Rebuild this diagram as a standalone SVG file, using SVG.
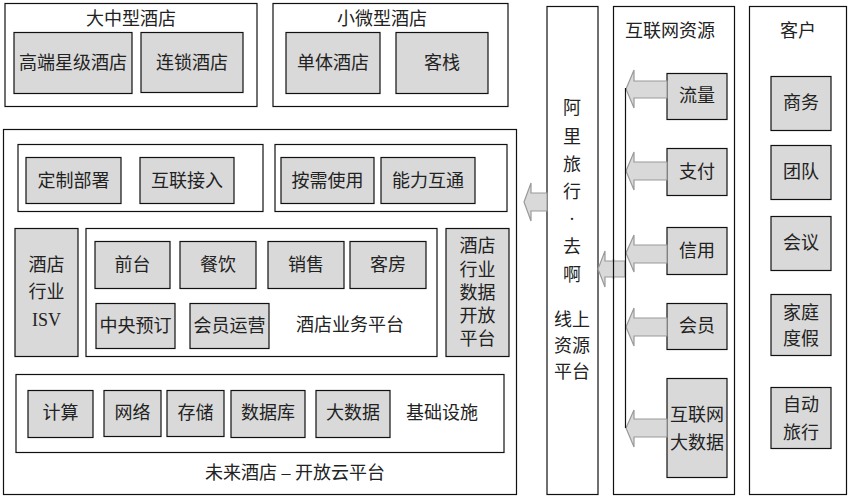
<svg xmlns="http://www.w3.org/2000/svg" width="853" height="502" viewBox="0 0 853 502">
<style>
.frame{fill:#fff;stroke:#111;stroke-width:1.2}
.box{fill:#d9d9d9;stroke:#111;stroke-width:1.2}
.arr{fill:#d9d9d9;stroke:#9a9a9a;stroke-width:1.2}
text{font-family:"Liberation Serif","Noto Sans CJK SC",serif;font-size:18px;fill:#222;text-anchor:middle;dominant-baseline:central}
</style>
<rect width="853" height="502" fill="#fff"/>

<g id="large-hotels">
<rect class="frame" x="5" y="3.5" width="252" height="103"/>
<text x="131" y="19">大中型酒店</text>
<g id="n-highend"><rect class="box" x="14" y="32.5" width="118" height="61"/><text x="73" y="63">高端星级酒店</text></g>
<g id="n-chain"><rect class="box" x="141" y="32.5" width="102" height="60"/><text x="192" y="62.5">连锁酒店</text></g>
</g>

<g id="small-hotels">
<rect class="frame" x="273" y="3.5" width="235" height="103"/>
<text x="382" y="19">小微型酒店</text>
<g id="n-single"><rect class="box" x="286" y="32.5" width="94" height="61"/><text x="333" y="63">单体酒店</text></g>
<g id="n-inn"><rect class="box" x="396" y="32.5" width="92" height="61"/><text x="442" y="63">客栈</text></g>
</g>

<g id="cloud-platform">
<rect class="frame" x="3.5" y="129.5" width="513" height="365"/>
<text x="295" y="473">未来酒店 – 开放云平台</text>
<g id="deploy-group">
<rect class="frame" x="18" y="144.5" width="245" height="67"/>
<g id="n-custom"><rect class="box" x="26" y="157.5" width="95" height="46"/><text x="73.5" y="180.5">定制部署</text></g>
<g id="n-connect"><rect class="box" x="140" y="157.5" width="94" height="46"/><text x="187" y="180.5">互联接入</text></g>
</g>
<g id="usage-group">
<rect class="frame" x="275" y="144.5" width="232" height="67"/>
<g id="n-ondemand"><rect class="box" x="281" y="157.5" width="93" height="46"/><text x="327.5" y="180.5">按需使用</text></g>
<g id="n-ability"><rect class="box" x="381" y="157.5" width="94" height="46"/><text x="428" y="180.5">能力互通</text></g>
</g>
<g id="n-isv"><rect class="box" x="15" y="228.5" width="63" height="128"/>
<text x="46.5" y="265">酒店</text><text x="46.5" y="292">行业</text><text x="46.5" y="320">ISV</text></g>
<g id="business-platform">
<rect class="frame" x="86" y="228.5" width="351" height="128"/>
<text x="350" y="325">酒店业务平台</text>
<g id="n-front"><rect class="box" x="95" y="241.5" width="75" height="47"/><text x="132.5" y="265">前台</text></g>
<g id="n-dining"><rect class="box" x="180" y="241.5" width="76" height="47"/><text x="218" y="265">餐饮</text></g>
<g id="n-sales"><rect class="box" x="268" y="241.5" width="76" height="47"/><text x="306" y="265">销售</text></g>
<g id="n-rooms"><rect class="box" x="350" y="241.5" width="76" height="47"/><text x="388" y="265">客房</text></g>
<g id="n-central"><rect class="box" x="96" y="303.5" width="79" height="45"/><text x="135.5" y="326">中央预订</text></g>
<g id="n-member-ops"><rect class="box" x="190" y="303.5" width="79" height="45"/><text x="229.5" y="326">会员运营</text></g>
</g>
<g id="n-data-open"><rect class="box" x="446" y="228.5" width="63" height="128"/>
<text x="477.5" y="246">酒店</text><text x="477.5" y="270">行业</text><text x="477.5" y="293">数据</text><text x="477.5" y="316">开放</text><text x="477.5" y="339">平台</text></g>
<g id="infrastructure">
<rect class="frame" x="16" y="374.5" width="488" height="78"/>
<text x="442" y="413">基础设施</text>
<g id="n-compute"><rect class="box" x="28" y="390.5" width="65" height="47"/><text x="60.5" y="413">计算</text></g>
<g id="n-network"><rect class="box" x="104" y="390.5" width="57" height="46"/><text x="132.5" y="413">网络</text></g>
<g id="n-storage"><rect class="box" x="167" y="390.5" width="57" height="46"/><text x="195.5" y="413">存储</text></g>
<g id="n-db"><rect class="box" x="231" y="390.5" width="74" height="47"/><text x="268" y="413">数据库</text></g>
<g id="n-bigdata"><rect class="box" x="316" y="390.5" width="74" height="47"/><text x="353" y="413">大数据</text></g>
</g>
</g>

<g id="ali-platform">
<rect class="frame" x="547" y="6.5" width="51" height="488"/>
<text x="572" y="108">阿</text><text x="572" y="137">里</text><text x="572" y="165">旅</text><text x="572" y="192">行</text><text x="572" y="219">·</text><text x="572" y="247">去</text><text x="572" y="275">啊</text>
<text x="572" y="320">线上</text><text x="572" y="346">资源</text><text x="572" y="372">平台</text>
</g>

<g id="internet-resources">
<rect class="frame" x="613.5" y="6.5" width="121" height="488"/>
<text x="670" y="31">互联网资源</text>
<g id="n-traffic"><rect class="box" x="667" y="73.5" width="60" height="46"/><text x="697" y="96">流量</text></g>
<g id="n-pay"><rect class="box" x="667" y="148.5" width="60" height="47"/><text x="697" y="171.5">支付</text></g>
<g id="n-credit"><rect class="box" x="667" y="227.5" width="60" height="47"/><text x="697" y="250.5">信用</text></g>
<g id="n-member"><rect class="box" x="667" y="303.5" width="60" height="46"/><text x="697" y="326">会员</text></g>
<g id="n-netdata"><rect class="box" x="667" y="378.5" width="60" height="99"/><text x="697" y="415">互联网</text><text x="697" y="443">大数据</text></g>
</g>

<g id="customers">
<rect class="frame" x="749.5" y="6.5" width="97" height="488"/>
<text x="798" y="31">客户</text>
<g id="n-business"><rect class="box" x="771" y="76.5" width="60" height="54"/><text x="801" y="103">商务</text></g>
<g id="n-team"><rect class="box" x="771" y="145.5" width="60" height="54"/><text x="801" y="172">团队</text></g>
<g id="n-meeting"><rect class="box" x="771" y="216.5" width="60" height="54"/><text x="801" y="243">会议</text></g>
<g id="n-family"><rect class="box" x="771" y="294.5" width="60" height="61"/><text x="801" y="313">家庭</text><text x="801" y="339">度假</text></g>
<g id="n-auto"><rect class="box" x="771" y="387.5" width="60" height="61"/><text x="801" y="405">自动</text><text x="801" y="433">旅行</text></g>
</g>

<g id="connectors">
<polygon class="arr" points="524,202 531,183 531,193 547,193 547,211 531,211 531,221"/>
<polygon class="arr" points="598,269 605,251 605,261 625,261 625,277 605,277 605,287"/>
<line x1="613.5" y1="259" x2="613.5" y2="279" stroke="#111" stroke-width="1.2"/>
<polygon class="arr" points="626,89 634,70 634,81 667,81 667,98 634,98 634,108"/>
<polygon class="arr" points="626,171 634,152 634,162 667,162 667,180 634,180 634,190"/>
<polygon class="arr" points="626,253 634,235 634,245 667,245 667,263 634,263 634,272"/>
<polygon class="arr" points="626,327 634,308 634,318 667,318 667,336 634,336 634,346"/>
<polygon class="arr" points="626,428 634,410 634,419 667,419 667,437 634,437 634,447"/>
<line x1="625.5" y1="88" x2="625.5" y2="428" stroke="#111" stroke-width="1.2"/>
</g>
</svg>
